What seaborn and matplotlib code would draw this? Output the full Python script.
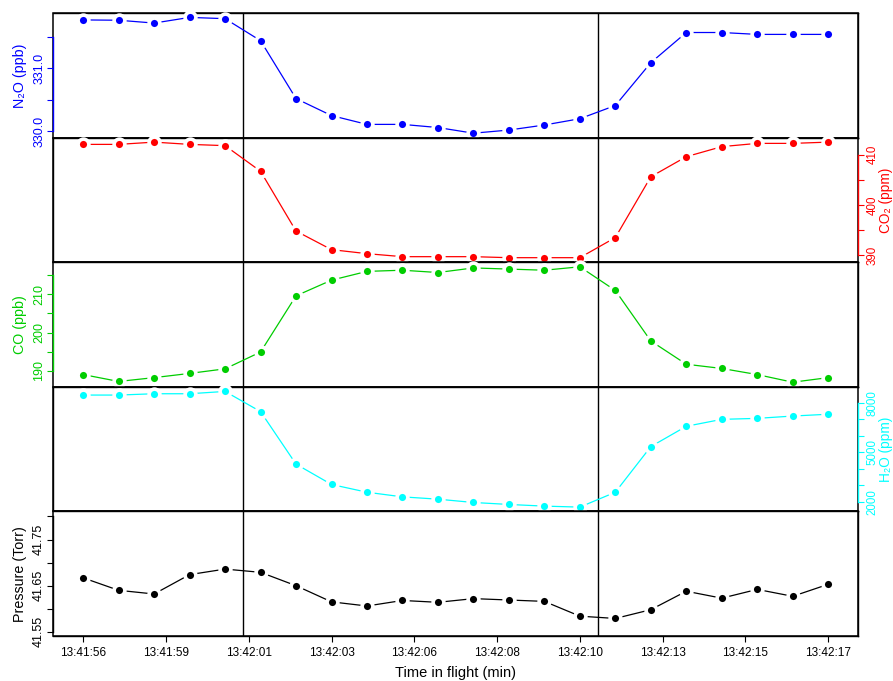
import numpy as np
import pandas as pd
import matplotlib
matplotlib.use("Agg")
import matplotlib.pyplot as plt
import seaborn as sns

# ---------------- data ----------------
seconds = [0, 1, 2, 3, 4, 5, 6, 7, 8, 9, 10, 11, 12, 13, 14, 15, 16, 17, 18, 19, 20, 21]
time_tick_labels = ["13:41:56", "13:41:59", "13:42:01", "13:42:03", "13:42:06",
                    "13:42:08", "13:42:10", "13:42:13", "13:42:15", "13:42:17"]
event_times = [4.5, 14.5]

n2o = [331.77, 331.765, 331.72, 331.81, 331.79, 331.44, 330.52, 330.25, 330.11, 330.11, 330.06,
       329.97, 330.02, 330.10, 330.20, 330.41, 331.09, 331.57, 331.57, 331.54, 331.54, 331.54]
co2 = [412.05, 412.05, 412.5, 412.05, 411.8, 406.7, 394.8, 391.1, 390.3, 389.7, 389.7,
       389.7, 389.5, 389.5, 389.5, 393.5, 405.6, 409.6, 411.6, 412.25, 412.25, 412.5]
co = [189.0, 187.2, 188.2, 189.3, 190.5, 194.9, 209.6, 213.7, 216.0, 216.3, 215.7,
      216.9, 216.6, 216.3, 217.2, 211.0, 197.8, 191.7, 190.6, 189.0, 187.0, 188.2]
h2o = [8460, 8460, 8540, 8540, 8680, 7460, 4280, 3050, 2580, 2300, 2160,
       1960, 1840, 1740, 1680, 2580, 5340, 6570, 6990, 7050, 7190, 7300]
pressure = [41.667, 41.640, 41.632, 41.674, 41.686, 41.679, 41.650, 41.615, 41.606, 41.618, 41.614,
            41.622, 41.619, 41.616, 41.584, 41.579, 41.598, 41.638, 41.623, 41.642, 41.627, 41.653]

n2o_ticks = [330.0, 330.5, 331.0, 331.5]
n2o_ticklabels = ["330.0", "", "331.0", ""]
co2_ticks = [390, 395, 400, 405, 410]
co2_ticklabels = ["390", "", "400", "", "410"]
co_ticks = [190, 195, 200, 205, 210, 215]
co_ticklabels = ["190", "", "200", "", "210", ""]
h2o_ticks = [2000, 3000, 4000, 5000, 6000, 7000, 8000]
h2o_ticklabels = ["2000", "", "", "5000", "", "", "8000"]
p_ticks = [41.55, 41.60, 41.65, 41.70, 41.75, 41.80]
p_ticklabels = ["41.55", "", "41.65", "", "41.75", ""]

panels = [
    dict(values=n2o, color="#0000FF", label="N\u2082O (ppb)", side="left",
         ylim=(329.90, 331.88), ticks=n2o_ticks, ticklabels=n2o_ticklabels),
    dict(values=co2, color="#FF0000", label="CO\u2082 (ppm)", side="right",
         ylim=(388.6, 413.4), ticks=co2_ticks, ticklabels=co2_ticklabels),
    dict(values=co, color="#00CD00", label="CO (ppb)", side="left",
         ylim=(185.8, 218.4), ticks=co_ticks, ticklabels=co_ticklabels),
    dict(values=h2o, color="#00FFFF", label="H\u2082O (ppm)", side="right",
         ylim=(1420, 8960), ticks=h2o_ticks, ticklabels=h2o_ticklabels),
    dict(values=pressure, color="#000000", label="Pressure (Torr)", side="left",
         ylim=(41.541, 41.811), ticks=p_ticks, ticklabels=p_ticklabels),
]

# ---------------- style ----------------
sns.set_style("ticks")
plt.rcParams["font.family"] = ["Liberation Sans", "DejaVu Sans"]

W, H = 893, 681
fig = plt.figure(figsize=(W / 100, H / 100), dpi=100)

left_px, right_px = 53, 858
top_px, bottom_px = 13, 636
ph = (bottom_px - top_px) / len(panels)

axes = []
for i, p in enumerate(panels):
    y_top = top_px + i * ph
    rect = [left_px / W, 1 - (y_top + ph) / H, (right_px - left_px) / W, ph / H]
    ax = fig.add_axes(rect)
    axes.append(ax)
    c = p["color"]

    sns.lineplot(x=seconds, y=p["values"], color=c, lw=0.9, ax=ax, zorder=2)
    sns.scatterplot(x=seconds, y=p["values"], color=c, s=60, edgecolor="white",
                    linewidth=2.6, ax=ax, zorder=3, clip_on=False)
    for t in event_times:
        ax.axvline(t, color="black", lw=1.0, zorder=1)

    ax.set_xlim(-0.85, 21.84)
    ax.set_ylim(*p["ylim"])

    # frame
    ax.patch.set_edgecolor("black")
    ax.patch.set_linewidth(1.1)
    for s in ["top", "bottom", "left", "right"]:
        ax.spines[s].set_color("black")
        ax.spines[s].set_linewidth(1.0)

    side = p["side"]
    if side == "right":
        ax.yaxis.tick_right()
        ax.yaxis.set_label_position("right")
    ax.spines[side].set_color(c)
    ax.spines[side].set_bounds(p["ticks"][0], p["ticks"][-1])

    ax.set_yticks(p["ticks"])
    ax.set_yticklabels(p["ticklabels"])
    if side == "left":
        ax.tick_params(axis="y", which="both", direction="out", length=4.4, width=0.8,
                       colors=c, labelsize=9, labelrotation=90, pad=1.3)
    else:
        ax.tick_params(axis="y", which="both", direction="out", length=4.4, width=0.8,
                       colors=c, labelsize=8.3, labelrotation=90, pad=1.6)
    plt.setp(ax.get_yticklabels(), va="center")

    if side == "left":
        ax.set_ylabel(p["label"], color=c, fontsize=10.3)
        ax.yaxis.label.set_va("center")
        ax.yaxis.set_label_coords((20 - left_px) / (right_px - left_px), 0.5)
    else:
        ax.set_ylabel(p["label"], color=c, fontsize=9.8)
        ax.yaxis.label.set_va("center")
        ax.yaxis.set_label_coords((886.5 - left_px) / (right_px - left_px), 0.5)

    ax.set_xlabel("")
    if i < len(panels) - 1:
        ax.tick_params(axis="x", bottom=False, labelbottom=False)
    else:
        tick_pos = np.linspace(seconds[0], seconds[-1], len(time_tick_labels))
        ax.set_xticks(tick_pos)
        ax.set_xticklabels(time_tick_labels)
        ax.tick_params(axis="x", direction="out", length=4.4, width=0.8,
                       colors="black", labelsize=8.5, pad=3.3)
        ax.set_xlabel("Time in flight (min)", fontsize=10.5, color="black")
        ax.xaxis.label.set_va("center")
        ax.xaxis.set_label_coords(0.5, (bottom_px - 672.5) / ph)

fig.savefig("out.png", dpi=100)
